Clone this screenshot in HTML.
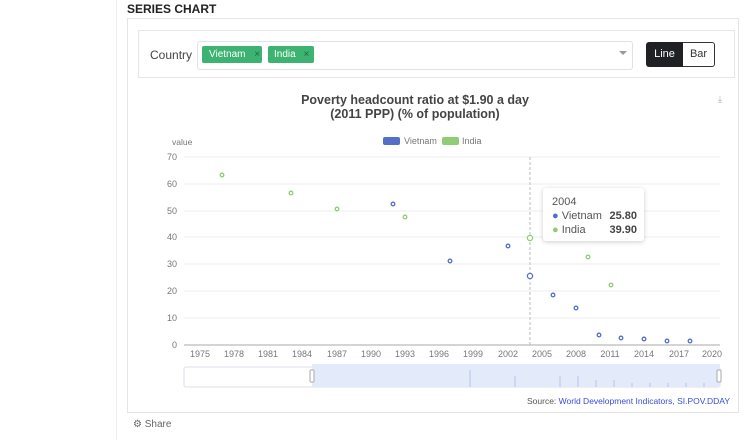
<!DOCTYPE html><html><head><style>
body{margin:0;width:745px;height:440px;background:#fff;font-family:"Liberation Sans",sans-serif;position:relative;overflow:hidden}
.a{position:absolute}
</style></head><body>
<div class="a" style="left:116px;top:0;width:1px;height:440px;background:#eee"></div>
<div class="a" style="left:127px;top:2px;font-weight:bold;font-size:12px;color:#222">SERIES CHART</div>
<div class="a" style="left:127px;top:18px;width:610px;height:393px;border:1px solid #e4e4e4"></div>
<div class="a" style="left:138px;top:30px;width:597px;height:48px;border:1px solid #e6e6e6;box-sizing:border-box"></div>
<div class="a" style="left:150px;top:48px;font-size:12px;color:#444">Country</div>
<div class="a" style="left:197px;top:41px;width:434px;height:27px;border:1px solid #e2e2e2;border-radius:3px"></div>
<div class="a" style="left:202px;top:46px;width:60px;height:17px;background:#3cb371;border-radius:2px;color:#fff;font-size:10px;line-height:17px;padding-left:7px;box-sizing:border-box">Vietnam <span style="margin-left:6px;color:#264">×</span></div>
<div class="a" style="left:268px;top:46px;width:46px;height:17px;background:#3cb371;border-radius:2px;color:#fff;font-size:10px;line-height:17px;padding-left:6px;box-sizing:border-box">India <span style="margin-left:5px;color:#264">×</span></div>
<div class="a" style="left:619px;top:51px;border:4px solid transparent;border-top:4px solid #999"></div>
<div class="a" style="left:646px;top:42px;width:37px;height:25px;background:#1f2125;border-radius:3px 0 0 3px;color:#fff;font-size:11px;line-height:25px;text-align:center">Line</div>
<div class="a" style="left:683px;top:42px;width:31px;height:23px;border:1px solid #333;border-left:none;border-radius:0 3px 3px 0;font-size:11px;line-height:23px;text-align:center;color:#333">Bar</div>
<div class="a" style="left:290px;top:93px;width:250px;text-align:center;font-size:12.5px;font-weight:bold;color:#444;line-height:14px">Poverty headcount ratio at $1.90 a day<br>(2011 PPP) (% of population)</div>
<div class="a" style="left:718px;top:94px;font-size:9px;color:#aaa">⤓</div>
<svg class="a" style="left:0;top:0" width="745" height="440" font-family="Liberation Sans" font-size="9" fill="#777">
<text x="172" y="145" font-size="8.5">value</text>
<rect x="383" y="137" width="17" height="8" rx="2" fill="#5470c6"/><text x="404" y="144" font-size="9">Vietnam</text>
<rect x="442" y="137" width="17" height="8" rx="2" fill="#91cc75"/><text x="462" y="144" font-size="9">India</text>
<g stroke="#eee"><line x1="184" x2="720" y1="157" y2="157"/><line x1="184" x2="720" y1="184" y2="184"/><line x1="184" x2="720" y1="211" y2="211"/><line x1="184" x2="720" y1="237" y2="237"/><line x1="184" x2="720" y1="264" y2="264"/><line x1="184" x2="720" y1="291" y2="291"/><line x1="184" x2="720" y1="318" y2="318"/></g>
<line x1="184" x2="720" y1="345" y2="345" stroke="#aaa"/>
<g text-anchor="end" font-size="9"><text x="177" y="160">70</text><text x="177" y="187">60</text><text x="177" y="214">50</text><text x="177" y="240">40</text><text x="177" y="267">30</text><text x="177" y="294">20</text><text x="177" y="321">10</text><text x="177" y="348">0</text></g>
<g text-anchor="middle" font-size="9"><text x="200" y="357">1975</text><text x="234" y="357">1978</text><text x="268" y="357">1981</text><text x="302" y="357">1984</text><text x="337" y="357">1987</text><text x="371" y="357">1990</text><text x="405" y="357">1993</text><text x="439" y="357">1996</text><text x="473" y="357">1999</text><text x="508" y="357">2002</text><text x="542" y="357">2005</text><text x="576" y="357">2008</text><text x="610" y="357">2011</text><text x="644" y="357">2014</text><text x="679" y="357">2017</text><text x="712" y="357">2020</text></g>
<line x1="530" x2="530" y1="157" y2="345" stroke="#bbb" stroke-dasharray="3,2"/>
<g fill="#fff" stroke="#5470c6" stroke-width="1.3"><circle cx="393" cy="204" r="1.8"/><circle cx="450" cy="261" r="1.8"/><circle cx="508" cy="246" r="1.8"/><circle cx="530" cy="276" r="2.6"/><circle cx="553" cy="295" r="1.8"/><circle cx="576" cy="308" r="1.8"/><circle cx="599" cy="335" r="1.8"/><circle cx="621" cy="338" r="1.8"/><circle cx="644" cy="339" r="1.8"/><circle cx="667" cy="341" r="1.8"/><circle cx="690" cy="341" r="1.8"/></g>
<g fill="#fff" stroke="#91cc75" stroke-width="1.3"><circle cx="222" cy="175" r="1.8"/><circle cx="291" cy="193" r="1.8"/><circle cx="337" cy="209" r="1.8"/><circle cx="405" cy="217" r="1.8"/><circle cx="530" cy="238" r="2.6"/><circle cx="588" cy="257" r="1.8"/><circle cx="611" cy="285" r="1.8"/></g>
<rect x="184" y="367" width="536" height="20" fill="#fff" stroke="#dde" rx="2"/>
<rect x="312" y="364" width="408" height="23" fill="#e3ebfb"/>
<g stroke="#b6c6ea"><line x1="470" x2="470" y1="370" y2="387"/><line x1="515" x2="515" y1="376" y2="387"/><line x1="560" x2="560" y1="376" y2="387"/><line x1="578" x2="578" y1="376" y2="387"/><line x1="596" x2="596" y1="380" y2="387"/><line x1="614" x2="614" y1="380" y2="387"/><line x1="632" x2="632" y1="383" y2="387"/><line x1="650" x2="650" y1="383" y2="387"/><line x1="668" x2="668" y1="383" y2="387"/><line x1="686" x2="686" y1="383" y2="387"/><line x1="704" x2="704" y1="383" y2="387"/></g>
<rect x="310" y="370" width="4" height="12" rx="1" fill="#fff" stroke="#aaa"/><rect x="717" y="370" width="4" height="12" rx="1" fill="#fff" stroke="#aaa"/>
<text x="527" y="404" font-size="8.5" fill="#555">Source: <tspan fill="#3a4fd8">World Development Indicators, SI.POV.DDAY</tspan></text>
<text x="133" y="427" font-size="10" fill="#666">⚙ Share</text>
</svg>
<div class="a" style="left:543px;top:188px;width:101px;height:53px;background:#fff;box-shadow:0 1px 5px rgba(0,0,0,.2);border-radius:3px;font-size:11px;color:#555">
<div style="position:absolute;left:9px;top:8px">2004</div>
<div style="position:absolute;left:9px;top:22px"><span style="color:#5470c6">●</span> Vietnam</div><div style="position:absolute;right:7px;top:22px;font-weight:bold;color:#444">25.80</div>
<div style="position:absolute;left:9px;top:36px"><span style="color:#91cc75">●</span> India</div><div style="position:absolute;right:7px;top:36px;font-weight:bold;color:#444">39.90</div>
</div>
</body></html>
